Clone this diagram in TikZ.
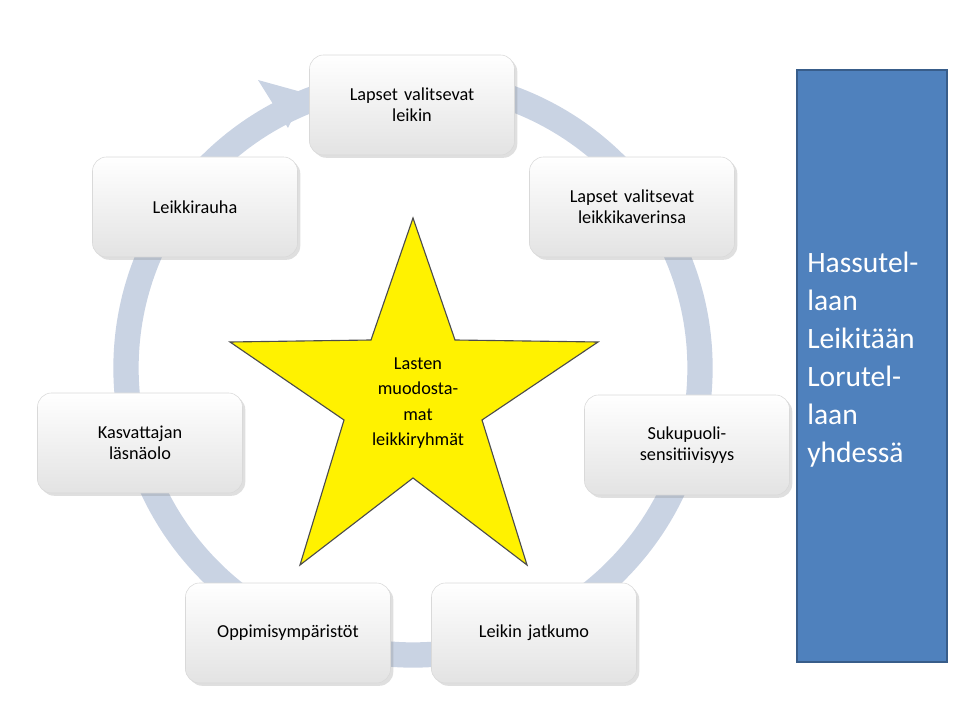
\documentclass[tikz,border=0pt]{standalone}
\usepackage{fontspec}
\setmainfont{Carlito}
\usetikzlibrary{shadows}
\definecolor{ringc}{HTML}{C9D3E3}
\definecolor{blueb}{HTML}{4F81BD}
\definecolor{bluee}{HTML}{385D8A}
\newcommand{\pxu}{*0.025cm}
\tikzset{
  stepbox/.style={rounded corners=10pt, minimum width=205\pxu, minimum height=100\pxu,
    align=center, text width=180\pxu, font=\fontsize{13}{15}\selectfont,
    top color=white, bottom color=gray!22, draw=gray!30,
    drop shadow={opacity=0.25, shadow xshift=2pt, shadow yshift=-2pt}}
}
\begin{document}
\begin{tikzpicture}[x=0.025cm, y=-0.025cm]
\useasboundingbox (0,0) rectangle (960,720);
% ring with arrow head
\draw[ringc, line width=18pt] (413,368) circle (287\pxu);
\fill[ringc] (305,93) -- (258,80) -- (288,128) -- cycle;
% steps round the ring
\node[stepbox] (leikin) at (412,105) {Lapset valitsevat\\leikin};
\node[stepbox] (kaveri) at (632,207) {Lapset valitsevat\\leikkikaverinsa};
\node[stepbox] (suku) at (687,445) {Sukupuoli-\\sensitiivisyys};
\node[stepbox] (jatkumo) at (534,633) {Leikin jatkumo};
\node[stepbox] (oppi) at (288,633) {Oppimisympäristöt};
\node[stepbox] (kasv) at (140,443) {Kasvattajan\\läsnäolo};
\node[stepbox] (rauha) at (195,207) {Leikkirauha};
% star in the middle
\draw[fill=yellow, draw=black!70, thick]
  (413,218) -- (455,340) -- (598,342) -- (482,420) -- (527,565)
  -- (413,478) -- (300,565) -- (344,420) -- (230,342) -- (371,340) -- cycle;
\node[align=center, font=\fontsize{13}{18}\selectfont] (star) at (418,403)
  {Lasten\\muodosta-\\mat\\leikkiryhmät};
% side panel
\draw[fill=blueb, draw=bluee, thick] (797,70) rectangle (947,662);
\node[anchor=north west, align=left, text=white,
  font=\fontsize{21}{27}\selectfont, inner sep=0pt] (side) at (807,252)
  {Hassutel-\\laan\\Leikitään\\Lorutel-\\laan\\yhdessä};
\end{tikzpicture}
\end{document}
